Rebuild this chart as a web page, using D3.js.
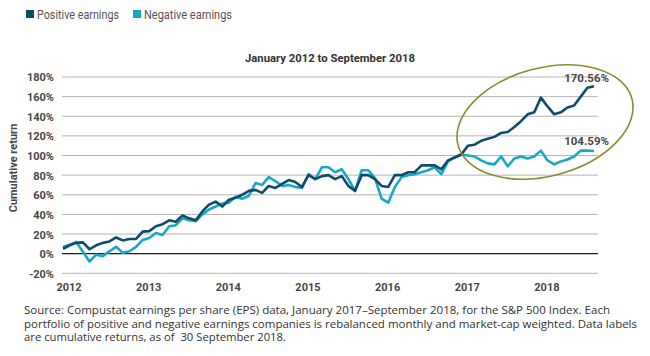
<!DOCTYPE html>
<html>
<head>
<meta charset="utf-8">
<script src="https://cdn.jsdelivr.net/npm/d3@7/dist/d3.min.js"></script>
<style>
  html, body { margin: 0; padding: 0; background: #fff; }
  svg { display: block; }
</style>
</head>
<body>
<svg id="chart" width="650" height="356"></svg>
<script>
// ---------------- data ----------------
const years = ["2012", "2013", "2014", "2015", "2016", "2017", "2018"];
const yTicks = [-20, 0, 20, 40, 60, 80, 100, 120, 140, 160, 180];
const seriesNames = ["Positive earnings", "Negative earnings"];
// monthly cumulative return (%), Jan 2012 .. Sep 2018
const positive = [
  5, 8.5, 11, 11.5, 4.5, 8.5, 11, 12.5, 16.5, 13.5, 15, 15,
  22.5, 23, 28, 30, 34, 32.5, 39, 36, 34, 43, 50, 53,
  48, 55, 57, 60, 64, 65, 62, 69, 67, 71, 75, 73,
  68, 80, 76, 79, 80, 76, 79, 69, 64, 80, 80, 76,
  69, 68, 80, 80, 83, 83, 90, 90, 90, 86, 95, 98,
  101, 110, 111, 115, 117, 119, 123, 124, 129, 135, 142, 144,
  159, 150, 142, 144, 149, 151, 160, 169, 170.56
];
const negative = [
  7, 9, 12, 2, -8, -1, -2.5, 2.5, 7, 1, 2.5, 7,
  14, 16, 21, 19, 28, 29, 36, 34, 33, 40, 45, 48,
  51, 52, 58, 56, 59, 72, 70, 78, 74, 69, 70, 68,
  67, 81, 76, 88, 88, 83, 86, 76, 64, 85, 85, 77,
  56, 52, 68, 78, 80, 81, 83, 85, 88, 81, 94, 98,
  101, 100, 99, 95, 92, 91, 99, 89, 97, 99, 97, 99,
  105, 95, 91, 94, 96, 99, 105, 105, 104.59
];
const endLabels = ["170.56%", "104.59%"];
const title = "January 2012 to September 2018";
const yLabel = "Cumulative return";
const sourceLines = [
  "Source: Compustat earnings per share (EPS) data, January 2017\u2013September 2018, for the S&P 500 Index. Each",
  "portfolio of positive and negative earnings companies is rebalanced monthly and market-cap weighted. Data labels",
  "are cumulative returns, as of \u00a030 September 2018."
];

// ---------------- style ----------------
const colors = ["#0f4c69", "#17a8c4"];
const textColor = "#474747";
const numFont = "Roboto, 'DejaVu Sans', sans-serif";

const svg = d3.select("#chart");
const x = d3.scaleLinear().domain([0, positive.length - 1]).range([63, 594]);
const y = d3.scaleLinear().domain([-20, 180]).range([273.3, 77]);

// gridlines
const gridL = 62, gridR = 598;
svg.append("g").selectAll("line").data(yTicks).join("line")
  .attr("x1", gridL).attr("x2", gridR)
  .attr("y1", d => y(d)).attr("y2", d => y(d))
  .attr("stroke", d => d === 0 ? "#1e1e1e" : "#b4b4b4")
  .attr("stroke-width", d => d === 0 ? 1.4 : 1);

// y axis tick labels
const yAxis = d3.axisLeft(y).tickValues(yTicks).tickSize(0).tickPadding(0)
  .tickFormat(d => d + "%");
const gy = svg.append("g").attr("transform", "translate(54,0)").call(yAxis);
gy.select(".domain").remove();
gy.selectAll("text")
  .attr("font-family", numFont).attr("font-weight", "bold")
  .attr("font-size", 11).attr("fill", textColor).attr("dy", "0.36em");

// x axis year labels
const xAxis = d3.axisBottom(x).tickValues(years.map((d, i) => i * 12))
  .tickSize(0).tickPadding(0).tickFormat((d, i) => years[i]);
const gx = svg.append("g").attr("transform", "translate(5.5,283)").call(xAxis);
gx.select(".domain").remove();
gx.selectAll("text")
  .attr("font-family", numFont).attr("font-weight", "bold")
  .attr("font-size", 11).attr("fill", textColor);

// lines
const line = d3.line().x((d, i) => x(i)).y(d => y(d));
[negative, positive].forEach((s, k) => {
  svg.append("path").datum(s)
    .attr("d", line)
    .attr("fill", "none")
    .attr("stroke", colors[1 - k])
    .attr("stroke-width", 2.6)
    .attr("stroke-linejoin", "round");
});

// highlight ellipse
svg.append("ellipse")
  .attr("cx", 545).attr("cy", 122).attr("rx", 90).attr("ry", 54)
  .attr("transform", "rotate(-15,545,122)")
  .attr("fill", "none").attr("stroke", "#8c8b35").attr("stroke-width", 1.6);

// end labels
const lastI = positive.length - 1;
[[positive, -4], [negative, -6]].forEach(([s, off], k) => {
  svg.append("text")
    .attr("x", x(lastI) + 15).attr("y", y(s[lastI]) + off)
    .attr("text-anchor", "end")
    .attr("font-family", numFont).attr("font-weight", "bold")
    .attr("font-size", 11.5).attr("fill", textColor)
    .text(endLabels[k]);
});

// title
svg.append("text").attr("x", 330).attr("y", 62).attr("text-anchor", "middle")
  .attr("font-family", numFont).attr("font-weight", "bold")
  .attr("font-size", 11.5).attr("fill", "#333")
  .attr("textLength", 170).attr("lengthAdjust", "spacingAndGlyphs")
  .text(title);

// y label
svg.append("text")
  .attr("transform", "translate(17,168) rotate(-90)")
  .attr("text-anchor", "middle")
  .attr("font-family", numFont).attr("font-weight", "bold")
  .attr("font-size", 11).attr("fill", textColor)
  .text(yLabel);

// legend
const legX = [26, 133];
const legW = [82, 88];
seriesNames.forEach((n, k) => {
  svg.append("rect").attr("x", legX[k]).attr("y", 10).attr("width", 8).attr("height", 8)
    .attr("fill", colors[k]);
  svg.append("text").attr("x", legX[k] + 11).attr("y", 18.5)
    .attr("font-family", "Roboto, sans-serif").attr("font-size", 12)
    .attr("fill", "#555")
    .attr("textLength", legW[k]).attr("lengthAdjust", "spacingAndGlyphs")
    .text(n);
});

// source note
const srcW = [586, 613, 262];
sourceLines.forEach((t, k) => {
  svg.append("text").attr("x", 24).attr("y", 314 + k * 13.5)
    .attr("font-family", "'Open Sans', Roboto, sans-serif").attr("font-size", 11)
    .attr("fill", "#333")
    .attr("textLength", srcW[k]).attr("lengthAdjust", "spacingAndGlyphs")
    .text(t);
});
</script>
</body>
</html>
